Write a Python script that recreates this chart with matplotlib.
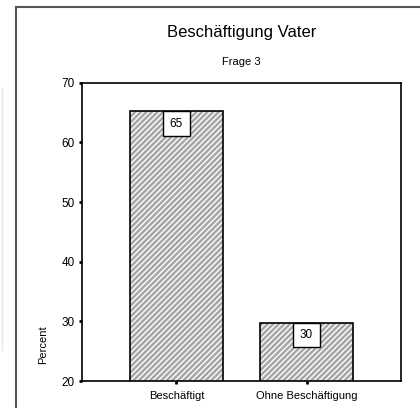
import matplotlib
matplotlib.use("Agg")
import matplotlib.pyplot as plt
from matplotlib.lines import Line2D

categories = ["Beschäftigt", "Ohne Beschäftigung"]
percent = [65.2, 29.8]
labels = ["65", "30"]
yticks = [20, 30, 40, 50, 60, 70]

plt.rcParams["font.family"] = ["Liberation Sans", "DejaVu Sans"]
plt.rcParams["hatch.linewidth"] = 1.0

fig = plt.figure(figsize=(4.2, 4.08), dpi=100)
ax = fig.add_axes([0.195, 0.066, 0.76, 0.731])

x = list(range(len(categories)))
# gray fill with white diagonal hatch, then black outline on top
ax.bar(x, percent, width=0.715, bottom=0, color="#a6a6a6", edgecolor="white",
       hatch="//////", linewidth=0, zorder=2)
ax.bar(x, percent, width=0.715, bottom=0, fill=False, edgecolor="black",
       linewidth=1.2, zorder=3)

for xi, v, lab in zip(x, percent, labels):
    ax.annotate(lab, xy=(xi, v), xytext=(0, -4.6), textcoords="offset points",
                ha="center", va="top", fontsize=8.5, zorder=4,
                bbox=dict(boxstyle="square,pad=0.55", fc="white", ec="black", lw=1.0))

ax.set_ylim(20, 70)
ax.set_xlim(-0.727, 1.727)
ax.set_yticks(yticks)
ax.set_xticks(x)
ax.set_xticklabels(categories, fontsize=8)
ax.tick_params(axis="y", labelsize=8.5, length=2, width=2, pad=3)
ax.tick_params(axis="x", length=2, width=2, pad=5)
for s in ax.spines.values():
    s.set_linewidth(1.2)

fig.text(0.103, 0.155, "Percent", rotation=90, fontsize=8, ha="center", va="center")
fig.text(241.5 / 420, 1 - 32 / 408, "Beschäftigung Vater", fontsize=12,
         ha="center", va="center")
fig.text(241.5 / 420, 1 - 62 / 408, "Frage 3", fontsize=8, ha="center", va="center")

# outer frame
fig.add_artist(Line2D([16 / 420, 16 / 420], [0, 1 - 7 / 408], color="#555555", lw=1.5))
fig.add_artist(Line2D([16 / 420, 1], [1 - 7 / 408, 1 - 7 / 408], color="#555555", lw=1.5))
fig.add_artist(Line2D([2 / 420, 2 / 420], [1 - 88 / 408, 1 - 350 / 408], color="#e6e6e6", lw=1))

fig.savefig("out.png", dpi=100)
